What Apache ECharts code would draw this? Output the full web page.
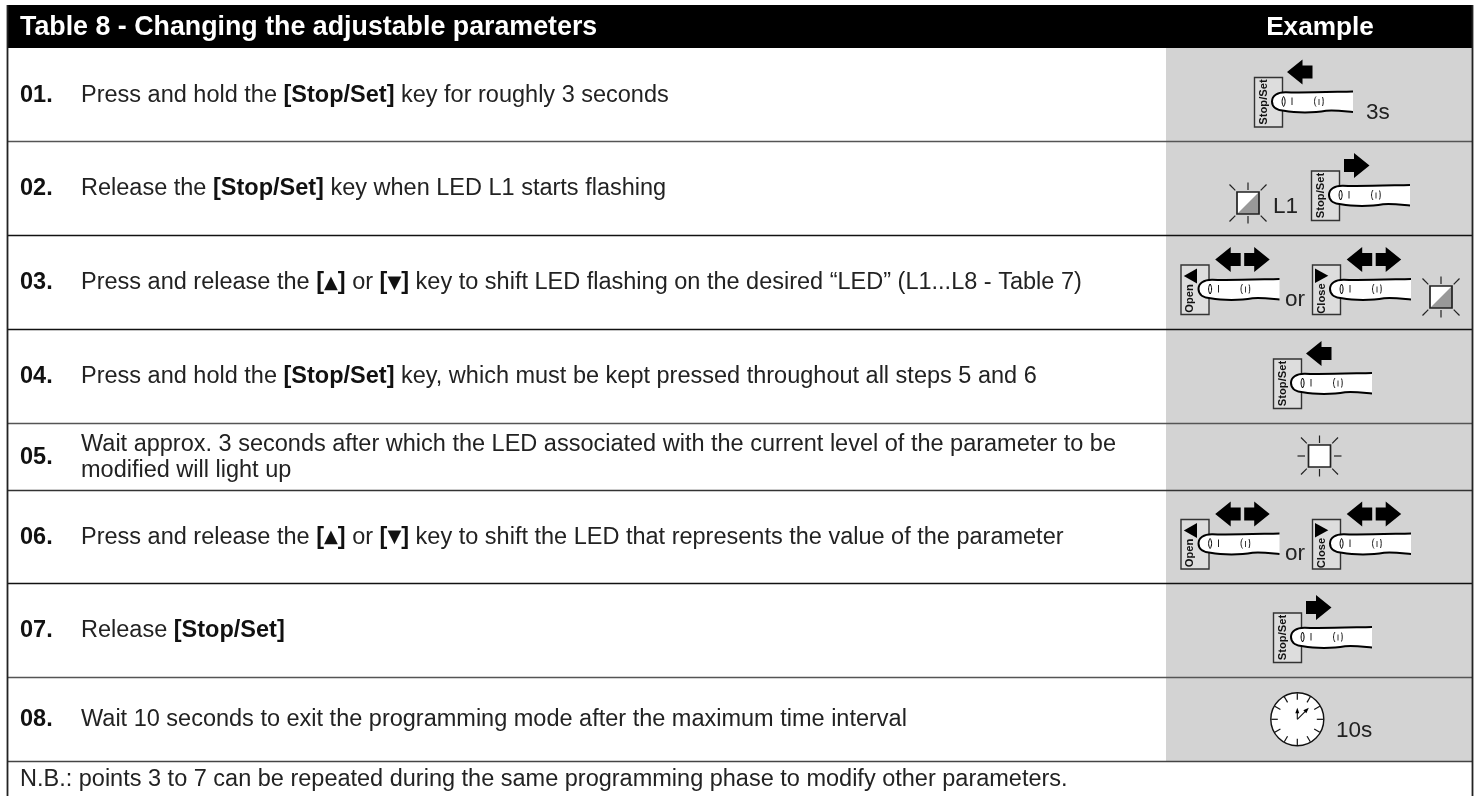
<!DOCTYPE html>
<html><head><meta charset="utf-8">
<style>html,body{margin:0;padding:0;background:#fff}#c{width:1478px;height:796px}</style>
<script src="https://cdn.jsdelivr.net/npm/echarts@6/dist/echarts.min.js"></script>
</head><body><div id="c"></div>
<script>
const tableTitle = 'Table 8 - Changing the adjustable parameters';
const exampleTitle = 'Example';
const stepNumbers = ['01.','02.','03.','04.','05.','06.','07.','08.'];
const stepTexts = [
 [['Press and hold the ','n'],['[Stop/Set]','b'],[' key for roughly 3 seconds','n']],
 [['Release the ','n'],['[Stop/Set]','b'],[' key when LED L1 starts flashing','n']],
 [['Press and release the ','n'],['[','b'],['▲','t'],[']','b'],[' or ','n'],['[','b'],['▼','t'],[']','b'],[' key to shift LED flashing on the desired “LED” (L1...L8 - Table 7)','n']],
 [['Press and hold the ','n'],['[Stop/Set]','b'],[' key, which must be kept pressed throughout all steps 5 and 6','n']],
 [['Wait approx. 3 seconds after which the LED associated with the current level of the parameter to be\nmodified will light up','n']],
 [['Press and release the ','n'],['[','b'],['▲','t'],[']','b'],[' or ','n'],['[','b'],['▼','t'],[']','b'],[' key to shift the LED that represents the value of the parameter','n']],
 [['Release ','n'],['[Stop/Set]','b']],
 [['Wait 10 seconds to exit the programming mode after the maximum time interval','n']]
];
const noteText = 'N.B.: points 3 to 7 can be repeated during the same programming phase to modify other parameters.';
const rowLines = [48,141,235,329,423,490,583,677,761];
const rowLineColors = ['#555','#111','#111','#555','#333','#111','#555','#444'];

const F = 'Liberation Sans';
const GRAY = '#d3d3d3', INK = '#222';
const L = 8, R = 1472, COL = 1166;
const FS = 23.5;
echarts.graphic.registerShape('vpath', echarts.graphic.extendShape({
  type:'vpath',
  shape:{d:''},
  buildPath(ctx,shape){
    const t=shape.d.match(/[MLHVCZ]|-?[\d.]+/g)||[];let i=0,x=0,y=0;
    const n=()=>parseFloat(t[i++]);
    while(i<t.length){const c=t[i++];
      if(c==='M'){x=n();y=n();ctx.moveTo(x,y);}
      else if(c==='L'){x=n();y=n();ctx.lineTo(x,y);}
      else if(c==='H'){x=n();ctx.lineTo(x,y);}
      else if(c==='V'){y=n();ctx.lineTo(x,y);}
      else if(c==='C'){const a=n(),b=n(),e=n(),f=n();x=n();y=n();ctx.bezierCurveTo(a,b,e,f,x,y);}
      else if(c==='Z'){ctx.closePath();}
    }
  }
}));
const els = [];
const rect = (x,y,w,h,fill,stroke,lw)=>({type:'rect',shape:{x,y,width:w,height:h},style:{fill:fill||'none',stroke:stroke||'none',lineWidth:lw||0}});
const line = (x1,y1,x2,y2,c,lw)=>({type:'line',shape:{x1,y1,x2,y2},style:{stroke:c||'#000',lineWidth:lw||1}});
const path = (d,fill,stroke,lw)=>({type:'vpath',shape:{d},style:{fill:fill||'none',stroke:stroke||'none',lineWidth:lw||0}});
const txt = (x,y,t,size,weight,color,extra)=>({type:'text',x,y,style:Object.assign({text:t,font:(weight||'normal')+' '+size+'px "'+F+'"',fill:color||INK,verticalAlign:'middle',align:'left'},extra||{})});

els.push(rect(COL,48,R-COL,713,GRAY));
els.push(rect(L,5,R-L,43,'#000'));
els.push(txt(20,28,tableTitle,26.8,'bold','#fff'));
els.push(txt(1320,28,exampleTitle,26.2,'bold','#fff',{align:'center'}));
rowLines.slice(1).forEach((y,i)=>els.push(line(L,y+0.5,R,y+0.5,rowLineColors[i],1.3)));
els.push(line(L-0.5,5,L-0.5,796,'#222',1.8));
els.push(line(R+0.5,5,R+0.5,796,'#222',1.8));

stepNumbers.forEach((n,i)=>{
  const cy=(rowLines[i]+rowLines[i+1])/2;
  els.push(txt(20,cy+1,n,23.5,'bold','#111'));
  const rich={
    n:{font:'normal '+FS+'px "'+F+'"',fill:INK,lineHeight:i===4?26.5:28},
    b:{font:'bold '+FS+'px "'+F+'"',fill:'#111',lineHeight:28},
    t:{font:'bold 18px "DejaVu Sans"',fill:'#111',lineHeight:28}
  };
  const s=stepTexts[i].map(p=>p[0].split('\n').map(t=>'{'+p[1]+'|'+t+'}').join('\n')).join('');
  els.push({type:'text',x:81,y:cy+1,style:{text:s,rich,verticalAlign:'middle',align:'left'}});
});
els.push(txt(20,780,noteText,FS,'normal',INK));

function arrow(x,y,dir){
  const d = dir<0
   ? `M${x} ${y}L${x+15.5} ${y-12.5}V${y-6.5}H${x+25.5}V${y+6.5}H${x+15.5}V${y+12.5}Z`
   : `M${x+25.5} ${y}L${x+10} ${y-12.5}V${y-6.5}H${x}V${y+6.5}H${x+10}V${y+12.5}Z`;
  return path(d,'#000');
}
function fingerIcon(x,y,label,tri,arrows){
  const ch=[];
  ch.push(rect(0.5,0.5,28,49.5,'#dddddd','#333',1.4));
  if(tri==='L') ch.push(path('M3.3 11.5L16.5 4V19Z','#000'));
  if(tri==='R') ch.push(path('M3 4V18.5L16.3 11.2Z','#000'));
  const ly = tri?34:25;
  ch.push({type:'text',x:9.8,y:ly,rotation:Math.PI/2,style:{text:label,font:'bold 11.2px "'+F+'"',fill:'#111',align:'center',verticalAlign:'middle'}});
  ch.push(path('M99 14.5C75 15 45 16 32 15.2C23 15 18 19 18 24.5C18 31 24 33.5 30 33.8C42 36 60 36 72 33.8C82 33 92 34.5 99 35','#fff','#000',2));
  ch.push(path('M29.6 19.5C27.6 22 27.6 27 29.6 29.5C31.6 27 31.6 22 29.6 19.5Z','none','#000',1));
  ch.push(line(38,20.5,38,28,'#222',1));
  ch.push(path('M62 19.5C60 22 60 27 62 29.5','none','#222',1));
  ch.push(line(65,22,65,28,'#222',0.9));
  ch.push(path('M68.5 20C69.5 22 69.5 27 68.5 29','none','#222',1));
  (arrows||[]).forEach(a=>ch.push(arrow(a[0],-5,a[1])));
  els.push({type:'group',x,y,children:ch});
}
function ledIcon(cx,cy,half){
  const ch=[];
  const s=11, a=13,b=20.5,c=12.7,e=18.5;
  [[0,-1],[0,1],[-1,0],[1,0]].forEach(v=>{
    if(half&&v[0]!==0)return;
    ch.push(line(v[0]*(a+(v[0]?1.5:0)),v[1]*a,v[0]*(b+(v[0]?1.5:0)),v[1]*b,'#222',1.2));
  });
  [[-1,-1],[1,-1],[-1,1],[1,1]].forEach(v=>ch.push(line(v[0]*c,v[1]*c,v[0]*e,v[1]*e,'#222',1.2)));
  ch.push(rect(-s,-s,2*s,2*s,'#fff','none'));
  if(half) ch.push(path(`M${s} ${-s}V${s}H${-s}Z`,'#999'));
  ch.push(rect(-s,-s,2*s,2*s,'none','#222',1.7));
  els.push({type:'group',x:cx,y:cy,children:ch});
}
function clockIcon(cx,cy){
  const ch=[{type:'circle',shape:{cx:0,cy:0,r:26.5},style:{fill:'#fff',stroke:'#111',lineWidth:1.4}}];
  for(let i=0;i<12;i++){const t=i*Math.PI/6,o=26,n=19.5;ch.push(line(o*Math.sin(t),-o*Math.cos(t),n*Math.sin(t),-n*Math.cos(t),'#111',1.2));}
  ch.push(line(0,0,0,-8,'#111',1.1));ch.push(line(0,0,10,-10,'#111',1.1));
  ch.push(path('M0 -11.5L-2 -6H2Z','#000'));ch.push(path('M11.5 -11.5L6 -9L9 -6Z','#000'));
  els.push({type:'group',x:cx,y:cy,children:ch});
}
const labelSize=22.5;
fingerIcon(1254,77,'Stop/Set',null,[[33,-1]]);
els.push(txt(1366,113,'3s',labelSize,'normal','#222'));
ledIcon(1248,203,true);
els.push(txt(1273,207,'L1',labelSize,'normal','#222'));
fingerIcon(1311,170.5,'Stop/Set',null,[[33,1]]);
fingerIcon(1180.5,264.5,'Open','L',[[34.7,-1],[63.7,1]]);
els.push(txt(1285,300,'or',labelSize,'normal','#222'));
fingerIcon(1312,264.5,'Close','R',[[34.7,-1],[63.7,1]]);
ledIcon(1441,297,true);
fingerIcon(1273,358.5,'Stop/Set',null,[[33,-1]]);
ledIcon(1319.5,456,false);
fingerIcon(1180.5,519,'Open','L',[[34.7,-1],[63.7,1]]);
els.push(txt(1285,554,'or',labelSize,'normal','#222'));
fingerIcon(1312,519,'Close','R',[[34.7,-1],[63.7,1]]);
fingerIcon(1273,612.5,'Stop/Set',null,[[33,1]]);
clockIcon(1297.3,719.3);
els.push(txt(1336,731,'10s',labelSize,'normal','#222'));

const chart = echarts.init(document.getElementById('c'),null,{renderer:'canvas',width:1478,height:796});
chart.setOption({backgroundColor:'#fff',animation:false,graphic:{elements:els}});
</script></body></html>
